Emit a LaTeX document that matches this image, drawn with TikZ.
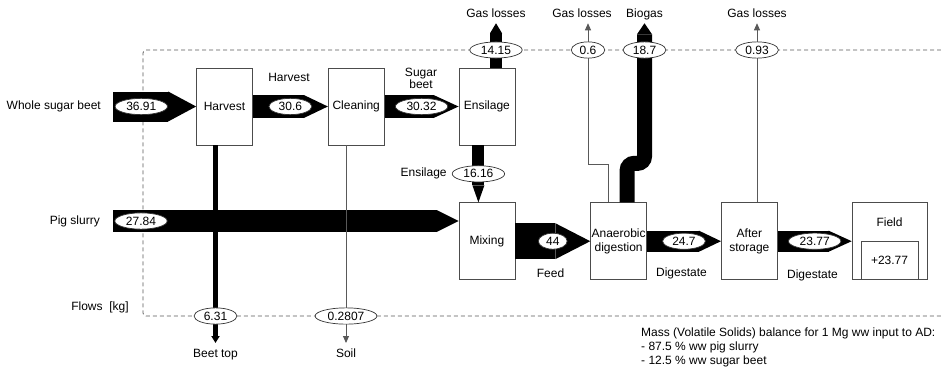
\documentclass[tikz,border=0pt]{standalone}
\usepackage{fontspec}
\setmainfont{Liberation Sans}
\usetikzlibrary{positioning, arrows.meta, shapes.geometric}

\tikzset{
  proc/.style={draw=black!70, fill=white, line width=0.7pt, minimum width=56pt, minimum height=77pt,
    inner sep=1pt, align=center, font=\fontsize{12}{14}\selectfont},
  val/.style={ellipse, draw=black!80, fill=white, line width=0.7pt, inner xsep=3.5pt, inner ysep=1.5pt,
    font=\fontsize{12}{12}\selectfont},
  lbl/.style={inner sep=1pt, align=center, font=\fontsize{12}{12}\selectfont},
  outlbl/.style={lbl, text height=8.6pt, text depth=2.5pt},
  fat/.style 2 args={line width=#1pt, -{Triangle[length=#2pt, width=#1pt, line width=0pt]}},
  thinarr/.style={draw=black!65, line width=0.9pt, -{Triangle[length=7pt, width=6pt]}},
  bound/.style={draw=black!65, line width=0.8pt, dash pattern=on 4pt off 3pt, rounded corners=3pt},
}

\begin{document}
\begin{tikzpicture}[x=1pt, y=-1pt]
\useasboundingbox (0,0) rectangle (941,370);

% System boundary
\coordinate (top) at (0,50);
\coordinate (bot) at (0,316);
\draw[bound] (941,50) -- (143,50) -- (143,316) -- (941,316);

% Processes
\node[proc] (harv) at (224.5,106.5) {Harvest};
\node[proc] (clean) [right=75pt of harv] {Cleaning};
\node[proc] (ensil) [right=74pt of clean] {Ensilage};
\node[proc] (mix) [below=57pt of ensil] {Mixing};
\node[proc] (ad) [right=75pt of mix] {Anaerobic\\digestion};
\node[proc] (store) [right=74pt of ad] {After\\storage};
\node[proc, minimum width=75pt] (field) [right=74pt of store] {};
\node[lbl] (fieldlbl) at ([yshift=-20pt]field.north) {Field};
\node[proc, minimum width=57pt, minimum height=38pt, anchor=south] (fieldin) at (field.south) {+23.77};

% Inputs and outputs
\node[lbl, anchor=east] (wsb) at (102,106.5) {Whole sugar beet};
\node[lbl, anchor=east] (ps) at (101,221) {Pig slurry};
\node[outlbl] (gl1) at (496,14) {Gas losses};
\node[outlbl] (gl2) at (582,14) {Gas losses};
\node[outlbl] (bio) at (644.5,14) {Biogas};
\node[outlbl] (gl3) at (757,14) {Gas losses};
\node[outlbl, anchor=north] (beet) at (215.5,348) {Beet top};
\node[outlbl, anchor=north] (soil) at (346,348) {Soil};
\coordinate (gl2a) at ([xshift=6pt,yshift=-2.5pt]gl2.south);

% Main flows
\draw[fat={30}{28}] ([xshift=11pt]wsb.east) -- node[val, pos=0.34] (v1) {36.91} (harv);
\draw[fat={23}{24}] (harv) -- node[val] (v2) {30.6} (clean);
\draw[fat={23}{25}] (clean) -- node[val] (v3) {30.32} (ensil);
\draw[fat={22}{22}] ([xshift=12pt]ps.east) -- node[val, pos=0.081] (v4) {27.84} (ps.east -| mix.west);
\draw[fat={12}{17}] ([xshift=-8.5pt]ensil.south) -- node[val] (v5) {16.16} ([xshift=-8.5pt]mix.north);
\draw[fat={36}{35}] (mix) -- node[val] (v6) {44} (ad);
\draw[fat={21}{22}] (ad) -- node[val] (v7) {24.7} (store);
\draw[fat={21}{23}] (store) -- node[val] (v8) {23.77} (field);

% Losses and products
\draw[fat={12}{10}] (gl1.south |- ensil.north) -- ([yshift=-2.5pt]gl1.south);
\draw[fat={15}{11}, rounded corners=7pt] ([xshift=8.5pt]ad.north) -- ++(0,-39) -| ([yshift=-2.5pt]bio.south);
\draw[thinarr] ([xshift=-10pt]ad.north) -- ++(0,-38) -| (gl2a);
\draw[thinarr] (gl3.south |- store.north) -- ([yshift=-2.5pt]gl3.south);
\draw[line width=5pt, -{Triangle[length=7pt, width=8pt]}] (beet.north |- harv.south) -- ([yshift=5pt]beet.north);
\draw[thinarr] (soil.north |- clean.south) -- ([yshift=5pt]soil.north);

% Values on the boundary
\node[val] (v9) at (gl1.south |- top) {14.15};
\node[val] (v10) at (gl2a |- top) {0.6};
\node[val] (v11) at (bio.south |- top) {18.7};
\node[val] (v12) at (gl3.south |- top) {0.93};
\node[val] (v13) at (beet.north |- bot) {6.31};
\node[val] (v14) at (soil.north |- bot) {0.2807};

% Flow names
\node[lbl] (lharv) at (289,77) {Harvest};
\node[lbl] (lsugar) at (421,78) {Sugar\\beet};
\node[lbl, left=4pt of v5] (lens) {Ensilage};
\node[lbl] (lfeed) at (550.5,273) {Feed};
\node[lbl] (ldig1) at (681.5,273) {Digestate};
\node[lbl] (ldig2) at (812.5,275) {Digestate};
\node[lbl] (lflows) at (100,307) {Flows\ \ [kg]};
\node[lbl, anchor=north west, align=left, font=\fontsize{12}{14}\selectfont] (note) at (640,326.5)
  {Mass (Volatile Solids) balance for 1 Mg ww input to AD:\\- 87.5 \% ww pig slurry\\- 12.5 \% ww sugar beet};
\end{tikzpicture}
\end{document}
